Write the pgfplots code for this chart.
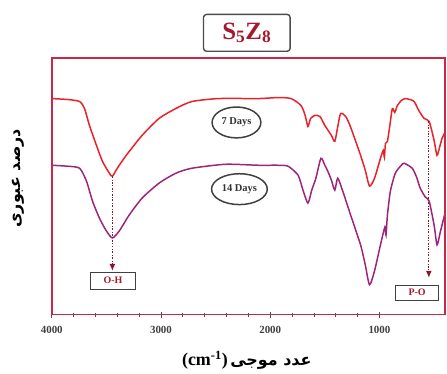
\documentclass[border=0pt]{standalone}
\usepackage{fontspec}
\usepackage{pgfplots}
\pgfplotsset{compat=1.18}
\usetikzlibrary{arrows.meta,shapes.geometric,calc}
\setmainfont{Liberation Serif}
\newfontfamily\arabicfont[Script=Arabic]{DejaVu Sans}
\TeXXeTstate=1
\definecolor{frameclr}{RGB}{200,40,70}
\definecolor{redc}{RGB}{232,34,42}
\definecolor{purc}{RGB}{158,36,122}
\definecolor{ttl}{RGB}{165,25,45}
\definecolor{arr}{RGB}{140,20,40}
\begin{document}
\begin{tikzpicture}
\begin{axis}[name=ax,
  scale only axis, width=395pt, height=258pt,
  x dir=reverse, xmin=400, xmax=4000, ymin=0, ymax=258,
  axis line style={draw=frameclr, line width=1.6pt},
  every outer x axis line/.append style={draw=frameclr},
  every outer y axis line/.append style={draw=frameclr},
  xtick={1000,2000,3000,4000}, minor x tick num=4,
  xtick pos=bottom, ytick=\empty, tick align=center,
  major tick length=6pt, minor tick length=4pt,
  xtick style={draw=black!70, line width=0.8pt},
  xticklabel style={font=\bfseries\fontsize{11}{11}\selectfont, text=black!75, yshift=-5pt},
  /pgf/number format/assume math mode=true,
  /pgf/number format/1000 sep={},
  clip=false,
  xlabel={{\bfseries\fontsize{18}{18}\selectfont (cm\textsuperscript{-1})}\ {\arabicfont\bfseries\fontsize{16}{16}\selectfont\beginR عدد موجی\endR}},
  xlabel style={at={(axis description cs:0.496,-0.178)}, anchor=center},
  ylabel={\arabicfont\bfseries\fontsize{16}{16}\selectfont\beginR درصد عبوری\endR},
  ylabel style={at={(axis description cs:-0.084,0.53)}, anchor=center},
]
\addplot[redc, line width=1.5pt, smooth, tension=0.4] coordinates {
(4000,217)(3850,216)(3745,214)(3700,207)(3655,190)(3591,170)(3536,154)(3473,142)(3445,139)
(3400,147)(3318,160)(3173,180)(3018,197)(2864,207)(2718,214)(2473,217)(2109,217)(1927,218)
(1809,217)(1718,210)(1680,200)(1655,189)(1630,197)(1591,200)(1545,199)(1500,190)(1440,180)(1409,174)
(1380,190)(1355,202)(1309,199)(1270,190)(1227,177)(1173,160)(1130,145)(1091,129)(1045,137)(991,157)
(965,165)(955,158)(945,172)(927,174)(905,190)(882,207)(860,203)(836,210)(800,215)(764,217)(720,216)
(682,214)(640,205)(591,197)(545,194)(500,175)(473,160)(445,170)(427,177)(400,183)
};
\addplot[purc, line width=1.5pt, smooth, tension=0.4] coordinates {
(4000,150)(3850,149)(3745,147)(3682,134)(3627,114)(3564,97)(3500,84)(3445,77)(3382,84)
(3291,100)(3173,117)(3018,132)(2864,142)(2718,147)(2409,151)(2109,150)(1927,150)(1836,149)
(1745,140)(1700,125)(1655,112)(1620,125)(1582,137)(1536,157)(1500,150)(1473,144)(1440,135)(1409,125)
(1382,137)(1336,124)(1300,112)(1264,100)(1173,70)(1130,50)(1091,30)(1045,44)(991,70)(950,88)(940,80)
(927,100)(900,124)(855,142)(800,150)(773,152)(700,147)(660,138)(627,127)(580,118)(545,114)
(500,90)(473,70)(445,82)(427,90)(400,102)
};
\draw[draw=frameclr, line width=1.6pt] (rel axis cs:0,0) rectangle (rel axis cs:1,1);
% O-H annotation
\draw[arr, dash pattern=on 2pt off 1.5pt on 0.8pt off 1.5pt, line width=1pt, -{Latex[length=7pt,width=6pt]}] (axis cs:3445,139) -- (axis cs:3445,44);
\node[draw=black!75, line width=1.1pt, fill=white, inner sep=2pt, minimum width=45pt, minimum height=17pt,
  font=\bfseries\fontsize{10}{10}\selectfont, text=ttl] at (axis cs:3440,34) {O-H};
% P-O annotation
\draw[arr, dash pattern=on 2pt off 1.5pt on 0.8pt off 1.5pt, line width=1pt, -{Latex[length=7pt,width=6pt]}] (axis cs:548,194) -- (axis cs:548,37);
\node[draw=black!75, line width=1.1pt, fill=white, inner sep=2pt, minimum width=43pt, minimum height=15pt,
  font=\bfseries\fontsize{10}{10}\selectfont, text=ttl] at (axis cs:655,22) {P-O};
% day labels
\node[draw=black!75, ellipse, line width=1.5pt, fill=white, inner sep=0pt, minimum width=49pt, minimum height=31pt,
  font=\bfseries\fontsize{10.5}{10.5}\selectfont, text=black!80] at (axis cs:2309,193) {7 Days};
\node[draw=black!75, ellipse, line width=1.5pt, fill=white, inner sep=0pt, minimum width=56pt, minimum height=31pt,
  font=\bfseries\fontsize{10.5}{10.5}\selectfont, text=black!80] at (axis cs:2282,126) {14 Days};
\end{axis}
\node[draw=black!70, line width=1.4pt, rounded corners=3pt, fill=white, minimum width=87pt, minimum height=37pt, inner sep=1pt,
  text=ttl, font=\bfseries\fontsize{25}{25}\selectfont] at ([yshift=25pt]$(ax.north west)!0.496!(ax.north east)$) {S\textsubscript{5}Z\textsubscript{8}};
\pgfresetboundingbox
\path[use as bounding box] ([xshift=-52pt,yshift=-59pt]ax.south west) rectangle ([xshift=2pt,yshift=58pt]ax.north east);
\end{tikzpicture}
\end{document}
